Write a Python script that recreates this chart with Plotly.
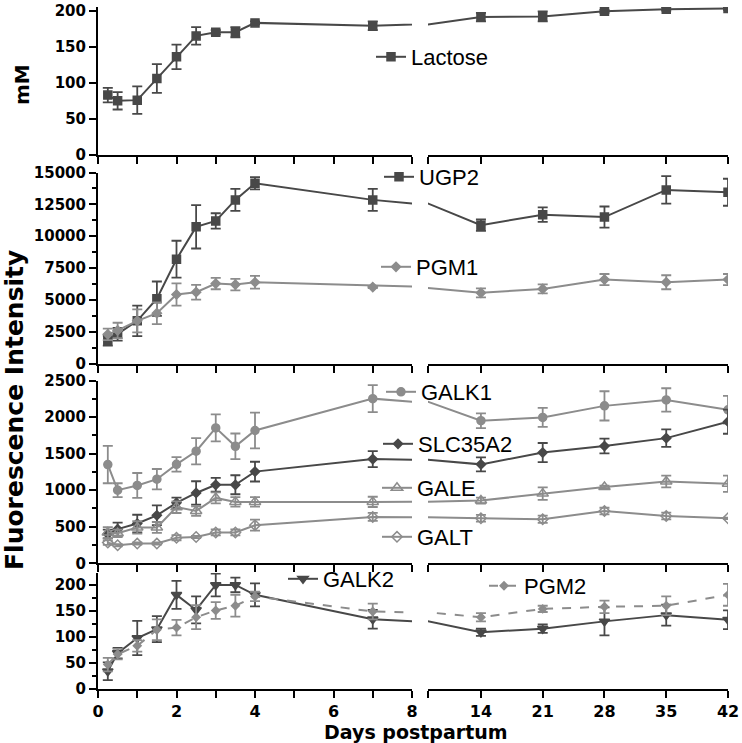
import plotly.graph_objects as go

# ---------------- data ----------------
days = [0.25, 0.5, 1, 1.5, 2, 2.5, 3, 3.5, 4, 7, 14, 21, 28, 35, 42]

lactose = [83, 75, 76, 106, 136, 165, 170, 170, 183, 179, 191, 192, 199, 202, 203]
lactose_err = [10, 12, 19, 20, 17, 12, 3, 7, 2, 6, 6, 7, 2, 2, 2]

ugp2 = [1800, 2300, 3350, 5090, 8190, 10730, 11200, 12850, 14150, 12850, 10860, 11690, 11500, 13630, 13450]
ugp2_err = [400, 500, 1200, 1350, 1450, 1700, 600, 870, 480, 870, 450, 570, 830, 1080, 1060]
pgm1 = [2290, 2600, 3350, 3950, 5420, 5600, 6280, 6200, 6380, 6000, 5550, 5860, 6590, 6380, 6590]
pgm1_err = [450, 600, 900, 850, 880, 580, 450, 450, 500, 80, 350, 350, 440, 550, 440]

galk1 = [1350, 1000, 1065, 1150, 1353, 1533, 1852, 1600, 1816, 2252, 1950, 1995, 2153, 2234, 2099]
galk1_err = [255, 95, 170, 140, 100, 180, 185, 175, 245, 185, 100, 130, 200, 160, 190]
slc35a2 = [400, 467, 544, 656, 827, 962, 1074, 1074, 1254, 1425, 1353, 1515, 1604, 1712, 1937]
slc35a2_err = [60, 90, 120, 135, 70, 160, 95, 130, 135, 110, 95, 130, 100, 120, 165]
gale = [420, 410, 490, 490, 768, 715, 894, 840, 840, 840, 858, 953, 1043, 1119, 1088]
gale_err = [75, 50, 85, 75, 80, 65, 75, 65, 65, 70, 40, 85, 20, 80, 110]
galt = [283, 247, 270, 270, 350, 360, 422, 422, 521, 634, 616, 602, 715, 647, 616]
galt_err = [30, 15, 15, 15, 35, 15, 40, 40, 75, 55, 45, 50, 45, 45, 10]

galk2 = [34, 69, 98, 115, 181, 152, 200, 200, 181, 134, 109, 116, 130, 142, 133]
galk2_err = [17, 10, 33, 25, 27, 26, 22, 14, 22, 18, 7, 8, 27, 20, 18]
pgm2 = [47, 67, 83, 114, 118, 138, 151, 160, 178, 149, 138, 154, 158, 160, 181]
pgm2_err = [13, 10, 11, 20, 15, 23, 16, 21, 9, 15, 8, 6, 12, 18, 21]

left_ticks = [0, 2, 4, 6, 8]
right_ticks = [8, 14, 21, 28, 35, 42]
right_ticktext = ["", "14", "21", "28", "35", "42"]

DARK = "#484848"
LIGHT = "#8c8c8c"

# ---------------- geometry helpers (window pixels -> paper) ----------------
W, H = 742, 743
L, R = 98, 728          # plot area left / right in px
TOP, BOT = 7, 689       # plot area top / bottom in px
PW, PH = R - L, BOT - TOP

def px_x(xp):
    return (xp - L) / PW

def px_y(yp):
    return (BOT - yp) / PH

def pdom(top_px, bot_px):
    return [px_y(bot_px), px_y(top_px)]

# series: (name, y, err, panel, color, symbol, size, dash, legend key, legend text-start px, legend y px)
series = [
    ("Lactose", lactose, lactose_err, 1, DARK, "square", 8, "solid", "legend", 410, 57),
    ("UGP2", ugp2, ugp2_err, 2, DARK, "square", 8, "solid", "legend2", 418, 177),
    ("PGM1", pgm1, pgm1_err, 2, LIGHT, "diamond", 7, "solid", "legend3", 415, 267),
    ("GALK1", galk1, galk1_err, 3, LIGHT, "circle", 8, "solid", "legend4", 420, 392),
    ("SLC35A2", slc35a2, slc35a2_err, 3, DARK, "diamond", 7, "solid", "legend5", 417, 444),
    ("GALE", gale, gale_err, 3, LIGHT, "triangle-up-open", 10, "solid", "legend6", 416, 488),
    ("GALT", galt, galt_err, 3, LIGHT, "diamond-open", 8, "solid", "legend7", 416, 537),
    ("GALK2", galk2, galk2_err, 4, DARK, "triangle-down", 9, "solid", "legend8", 322, 579),
    ("PGM2", pgm2, pgm2_err, 4, LIGHT, "diamond", 6, "dash", "legend9", 523, 586),
]

fig = go.Figure()

for name, y, err, panel, color, symbol, size, dash, leg, lx, ly in series:
    for col in (0, 1):
        k = 2 * (panel - 1) + col + 1
        fig.add_trace(go.Scatter(
            x=days, y=y, name=name, mode="lines+markers",
            line=dict(color=color, width=2, dash=dash),
            marker=dict(color=color, symbol=symbol, size=size,
                        line=dict(color=color, width=1.5)),
            error_y=dict(type="data", array=err, visible=True, color=color,
                         thickness=1.8, width=5),
            xaxis="x" if k == 1 else f"x{k}",
            yaxis="y" if k == 1 else f"y{k}",
            showlegend=(col == 0),
            legend=leg,
        ))

# ---------------- layout ----------------
y_domains = {
    1: pdom(7, 155),
    2: pdom(172.5, 363.5),
    3: pdom(380.5, 563.3),
    4: pdom(573, BOT),
}
y_ranges = {1: [0, 205], 2: [0, 15000], 3: [0, 2500], 4: [0, 223]}
y_dtick = {1: 50, 2: 2500, 3: 500, 4: 50}
y_minor = {1: None, 2: 1250, 3: 250, 4: 25}

x_dom_left = [0, px_x(412)]
x_dom_right = [px_x(428), 1]

tickfont = dict(family="DejaVu Sans", size=15, color="black", weight="bold")
axis_common = dict(showgrid=False, zeroline=False, linecolor="black", linewidth=2,
                   tickcolor="black", tickwidth=2, ticklen=7, ticks="outside",
                   tickfont=tickfont, automargin=False)

layout = dict(
    width=W, height=H,
    margin=dict(l=L, r=W - R, t=TOP, b=H - BOT, pad=0),
    plot_bgcolor="white", paper_bgcolor="white",
    font=dict(family="DejaVu Sans", color="black"),
)

for panel in (1, 2, 3, 4):
    for col in (0, 1):
        k = 2 * (panel - 1) + col + 1
        xname = "xaxis" if k == 1 else f"xaxis{k}"
        yname = "yaxis" if k == 1 else f"yaxis{k}"
        xa = dict(axis_common)
        xa.update(domain=x_dom_left if col == 0 else x_dom_right,
                  anchor="y" if k == 1 else f"y{k}", showline=True)
        if col == 0:
            xa.update(range=[0, 8], tickmode="array", tickvals=left_ticks,
                      minor=dict(dtick=1, tick0=0, ticks="outside", ticklen=7,
                                 tickwidth=2, tickcolor="black"))
        else:
            xa.update(range=[8, 42], tickmode="array", tickvals=right_ticks,
                      ticktext=right_ticktext)
        xa["showticklabels"] = (panel == 4)
        if panel == 4:
            xa["tickfont"] = dict(family="DejaVu Sans", size=16, color="black", weight="bold")
        layout[xname] = xa

        ya = dict(axis_common)
        ya.update(domain=y_domains[panel], range=y_ranges[panel],
                  anchor="x" if k == 1 else f"x{k}", tickformat="d")
        if col == 0:
            ya.update(showline=True, dtick=y_dtick[panel], tick0=0)
            if y_minor[panel]:
                ya["minor"] = dict(dtick=y_minor[panel], tick0=0, ticks="outside",
                                   ticklen=4, tickwidth=2, tickcolor="black")
        else:
            ya.update(showline=False, showticklabels=False, ticks="")
        layout[yname] = ya

for name, y, err, panel, color, symbol, size, dash, leg, lx, ly in series:
    layout[leg] = dict(x=px_x(lx - 39), y=px_y(ly), xref="paper", yref="paper",
                       xanchor="left", yanchor="middle",
                       bgcolor="rgba(0,0,0,0)", borderwidth=0,
                       font=dict(family="Liberation Sans", size=22, color="black"),
                       itemwidth=30, tracegroupgap=0)

fig.update_layout(**layout)

fig.add_annotation(text="mM", x=px_x(22), y=px_y(85), xref="paper", yref="paper",
                   xanchor="center", yanchor="middle", textangle=-90, showarrow=False,
                   font=dict(family="DejaVu Sans", size=20, color="black", weight="bold"))
fig.add_annotation(text="Fluorescence Intensity", x=px_x(15), y=px_y(410),
                   xref="paper", yref="paper", xanchor="center", yanchor="middle",
                   textangle=-90, showarrow=False,
                   font=dict(family="DejaVu Sans", size=25, color="black", weight="bold"))
fig.add_annotation(text="Days postpartum", x=px_x(416), y=px_y(732),
                   xref="paper", yref="paper", xanchor="center", yanchor="middle",
                   showarrow=False,
                   font=dict(family="DejaVu Sans", size=19, color="black", weight="bold"))

fig.write_html("out.html", config={"displayModeBar": False},
               post_script="document.body.style.margin='0';")
